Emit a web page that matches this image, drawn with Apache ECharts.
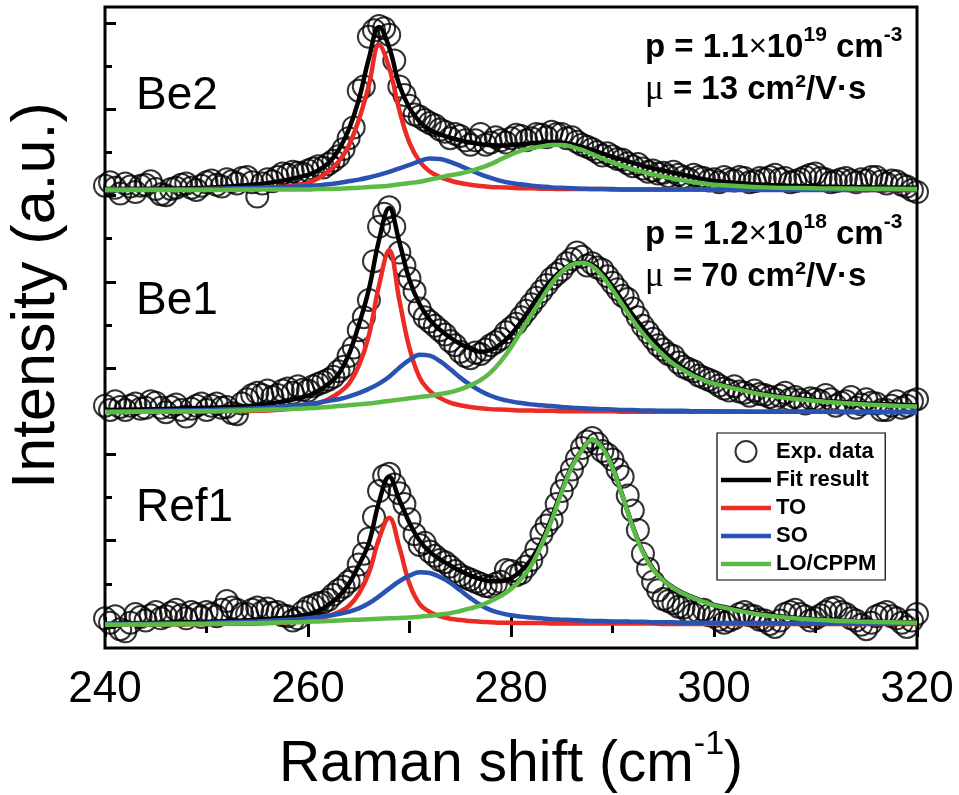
<!DOCTYPE html>
<html lang="en">
<head>
<meta charset="UTF-8">
<title>Raman spectra Be2 / Be1 / Ref1</title>
<script src="https://cdn.jsdelivr.net/npm/echarts@6/dist/echarts.min.js"></script>
<style>html,body{margin:0;padding:0;background:#fff;}</style>
</head>
<body>
<div id="chart" style="width:959px;height:795px;"></div>
<script>
// measured Raman shift (cm-1), one point every 0.5 cm-1
var expShift = [240,240.5,241,241.5,242,242.5,243,243.5,244,244.5,245,245.5,246,246.5,247,247.5,248,248.5,249,249.5,
    250,250.5,251,251.5,252,252.5,253,253.5,254,254.5,255,255.5,256,256.5,257,257.5,258,258.5,259,259.5,
    260,260.5,261,261.5,262,262.5,263,263.5,264,264.5,265,265.5,266,266.5,267,267.5,268,268.5,269,269.5,
    270,270.5,271,271.5,272,272.5,273,273.5,274,274.5,275,275.5,276,276.5,277,277.5,278,278.5,279,279.5,
    280,280.5,281,281.5,282,282.5,283,283.5,284,284.5,285,285.5,286,286.5,287,287.5,288,288.5,289,289.5,
    290,290.5,291,291.5,292,292.5,293,293.5,294,294.5,295,295.5,296,296.5,297,297.5,298,298.5,299,299.5,
    300,300.5,301,301.5,302,302.5,303,303.5,304,304.5,305,305.5,306,306.5,307,307.5,308,308.5,309,309.5,
    310,310.5,311,311.5,312,312.5,313,313.5,314,314.5,315,315.5,316,316.5,317,317.5,318,318.5,319,319.5,320];

var fitShift = [240,245,250,255,258,259,260,261,262,263,
    264,265,266,267,268,269,270,271,272,273,
    274,275,276,277,278,279,280,281,282,283,
    284,285,286,287,288,289,290,291,292,293,
    294,295,296,297,298,299,300,305,310,315,320];

// vertical offset of each spectrum (a.u.)
var offsets = {Be2: 10.13, Be1: 4.98, Ref1: 0.05};

// ---- Be2 ----
var be2Exp = [0.10,0.18,0.05,-0.08,0.15,0.08,-0.05,0.10,0.12,0.20,0.02,-0.10,-0.12,0.02,0.05,0.12,0.15,0.05,0.00,0.10,
    0.18,0.22,0.12,0.08,0.25,0.20,0.15,0.28,0.30,0.18,-0.15,0.15,0.25,0.20,0.30,0.38,0.35,0.42,0.40,0.38,
    0.45,0.50,0.55,0.52,0.60,0.68,0.78,0.95,1.20,1.45,2.30,2.40,3.55,3.70,3.80,3.75,3.60,3.00,2.40,2.20,
    1.95,1.75,1.70,1.62,1.55,1.50,1.40,1.35,1.20,1.30,1.25,1.15,1.05,1.15,1.30,1.05,1.10,1.22,1.15,1.10,
    1.20,1.28,1.25,1.15,1.20,1.30,1.28,1.22,1.35,1.30,1.30,1.20,1.22,1.12,1.05,1.00,0.95,0.88,0.80,0.85,
    0.78,0.72,0.70,0.62,0.55,0.60,0.50,0.42,0.45,0.38,0.40,0.32,0.42,0.35,0.30,0.25,0.35,0.30,0.28,0.22,
    0.25,0.18,0.30,0.25,0.22,0.30,0.28,0.18,0.20,0.28,0.25,0.30,0.35,0.25,0.28,0.18,0.20,0.25,0.30,0.35,
    0.38,0.28,0.25,0.18,0.20,0.25,0.28,0.22,0.18,0.25,0.22,0.30,0.30,0.20,0.15,0.22,0.20,0.12,0.08,0.00,-0.05];
var be2Fit = [0.02,0.03,0.05,0.13,0.24,0.29,0.35,0.45,0.62,0.92,
    1.39,2.09,3.05,3.78,3.30,2.43,1.90,1.58,1.39,1.29,
    1.21,1.15,1.10,1.06,1.04,1.03,1.04,1.06,1.08,1.10,
    1.11,1.10,1.06,1.00,0.93,0.85,0.77,0.70,0.63,0.56,
    0.50,0.45,0.40,0.35,0.30,0.25,0.21,0.12,0.08,0.06,0.05];
var be2TO = [0.01,0.01,0.02,0.04,0.08,0.11,0.16,0.27,0.43,0.65,
    1.02,1.62,2.43,3.36,2.83,1.85,1.09,0.66,0.43,0.30,
    0.22,0.16,0.12,0.09,0.07,0.06,0.05,0.04,0.04,0.03,
    0.03,0.02,0.02,0.02,0.02,0.02,0.01,0.01,0.01,0.01,
    0.01,0.01,0.01,0.01,0.01,0.01,0.01,0.01,0.01,0.00,0.00];
var be2SO = [0.00,0.01,0.02,0.05,0.07,0.08,0.09,0.11,0.13,0.16,
    0.20,0.24,0.29,0.35,0.42,0.50,0.58,0.67,0.73,0.72,
    0.65,0.56,0.46,0.36,0.28,0.21,0.16,0.13,0.10,0.08,
    0.06,0.05,0.04,0.03,0.02,0.02,0.02,0.01,0.01,0.01,
    0.01,0.01,0.01,0.01,0.01,0.01,0.00,0.00,0.00,0.00,0.00];
var be2LO = [0.00,0.00,0.00,0.01,0.01,0.01,0.01,0.02,0.02,0.03,
    0.04,0.05,0.07,0.08,0.10,0.13,0.16,0.19,0.24,0.29,
    0.34,0.38,0.44,0.51,0.60,0.71,0.82,0.91,0.97,1.01,
    1.04,1.04,1.00,0.93,0.83,0.73,0.64,0.56,0.48,0.42,
    0.36,0.31,0.26,0.22,0.18,0.15,0.12,0.06,0.04,0.03,0.02];

// ---- Be1 ----
var be1Exp = [0.15,0.05,0.25,0.12,0.05,0.15,0.20,0.08,0.10,0.25,0.22,0.10,0.00,0.12,0.18,0.05,-0.10,0.08,0.15,0.20,
    0.05,0.15,0.20,0.10,0.12,-0.02,-0.05,0.20,0.30,0.40,0.45,0.40,0.50,0.35,0.40,0.50,0.55,0.45,0.60,0.52,
    0.50,0.60,0.65,0.70,0.75,0.82,0.95,1.05,1.30,1.50,1.90,2.20,2.60,3.50,4.30,4.60,4.75,4.30,3.70,3.40,
    3.10,2.80,2.40,2.20,2.10,2.00,1.90,1.80,1.65,1.55,1.40,1.30,1.25,1.38,1.35,1.45,1.55,1.62,1.70,1.85,
    1.95,2.05,2.20,2.35,2.50,2.65,2.80,2.95,3.10,3.20,3.30,3.45,3.55,3.70,3.60,3.40,3.45,3.35,3.30,3.15,
    3.00,2.85,2.70,2.62,2.40,2.20,2.00,1.85,1.70,1.55,1.45,1.35,1.30,1.15,1.05,1.00,0.95,0.85,0.80,0.75,
    0.70,0.62,0.55,0.50,0.60,0.48,0.45,0.38,0.50,0.42,0.40,0.35,0.30,0.38,0.45,0.30,0.35,0.28,0.20,0.32,
    0.30,0.25,0.40,0.30,0.15,0.22,0.25,0.35,0.10,0.18,0.30,0.22,0.20,0.05,0.05,0.15,0.25,0.10,0.15,0.25,0.30];
var be1Fit = [0.05,0.07,0.10,0.16,0.27,0.32,0.38,0.49,0.65,0.88,
    1.32,2.02,2.85,3.99,4.73,3.94,3.06,2.50,2.14,1.91,
    1.73,1.58,1.47,1.40,1.44,1.58,1.80,2.10,2.44,2.78,
    3.07,3.28,3.43,3.48,3.42,3.22,2.92,2.58,2.25,1.95,
    1.67,1.42,1.21,1.02,0.88,0.76,0.67,0.42,0.28,0.20,0.16];
var be1TO = [0.01,0.01,0.02,0.03,0.07,0.10,0.14,0.20,0.30,0.44,
    0.65,1.07,1.78,2.94,3.75,2.60,1.48,0.80,0.49,0.33,
    0.22,0.16,0.12,0.09,0.07,0.06,0.05,0.04,0.04,0.03,
    0.03,0.02,0.02,0.02,0.02,0.02,0.02,0.01,0.01,0.01,
    0.01,0.01,0.01,0.01,0.01,0.01,0.01,0.01,0.01,0.01,0.01];
var be1SO = [0.01,0.03,0.05,0.09,0.14,0.16,0.19,0.22,0.26,0.30,
    0.36,0.44,0.54,0.66,0.82,1.03,1.21,1.33,1.31,1.18,
    1.00,0.80,0.63,0.49,0.38,0.30,0.25,0.21,0.18,0.16,
    0.14,0.12,0.10,0.09,0.08,0.07,0.06,0.05,0.05,0.04,
    0.04,0.03,0.03,0.03,0.02,0.02,0.02,0.01,0.01,0.00,0.00];
var be1LO = [0.00,0.01,0.02,0.05,0.07,0.08,0.09,0.10,0.12,0.14,
    0.16,0.18,0.20,0.23,0.26,0.29,0.32,0.35,0.38,0.42,
    0.46,0.53,0.62,0.74,0.92,1.18,1.50,1.88,2.25,2.62,
    2.98,3.25,3.42,3.46,3.38,3.15,2.83,2.48,2.13,1.82,
    1.55,1.32,1.12,0.97,0.84,0.74,0.66,0.40,0.26,0.18,0.13];

// ---- Ref1 ----
var ref1Exp = [0.15,0.05,0.20,-0.10,-0.15,0.05,0.25,0.18,0.10,0.22,0.30,0.15,0.20,0.28,0.35,0.22,0.15,0.30,0.25,0.18,
    0.30,0.25,0.20,0.35,0.55,0.40,0.35,0.25,0.25,0.35,0.40,0.30,0.38,0.28,0.30,0.22,0.20,0.10,0.15,0.30,
    0.40,0.45,0.50,0.52,0.58,0.70,0.80,0.88,1.00,1.10,1.40,1.65,2.00,2.50,3.10,3.45,3.50,3.25,3.05,2.80,
    2.45,2.10,1.85,1.90,1.70,1.60,1.50,1.45,1.35,1.25,1.15,1.10,1.05,1.00,0.95,0.90,0.88,0.95,1.00,1.27,
    1.25,1.15,1.20,1.35,1.50,1.75,2.10,2.30,2.45,2.80,3.10,3.35,3.60,3.85,4.10,4.25,4.33,4.20,4.03,3.95,
    3.83,3.60,3.43,3.00,2.65,2.20,1.65,1.30,1.00,0.80,0.60,0.55,0.50,0.42,0.40,0.30,0.25,0.30,0.35,0.22,
    0.20,0.12,0.05,0.10,0.15,0.25,0.30,0.22,0.20,0.12,0.10,0.02,-0.05,0.10,0.25,0.30,0.35,0.25,0.20,0.10,
    0.15,0.22,0.30,0.38,0.40,0.30,0.25,0.15,0.10,0.00,-0.10,0.05,0.20,0.25,0.30,0.20,0.15,0.05,-0.05,0.10,0.25];
var ref1Fit = [0.02,0.05,0.07,0.12,0.17,0.20,0.24,0.32,0.46,0.65,
    0.94,1.38,1.90,2.85,3.43,2.90,2.36,1.95,1.69,1.52,
    1.38,1.25,1.14,1.06,1.01,1.01,1.08,1.25,1.52,1.92,
    2.48,3.12,3.68,4.06,4.29,4.12,3.66,2.98,2.28,1.70,
    1.30,1.04,0.86,0.73,0.63,0.54,0.46,0.24,0.13,0.08,0.06];
var ref1TO = [0.01,0.01,0.02,0.03,0.06,0.07,0.09,0.14,0.20,0.29,
    0.43,0.72,1.20,2.00,2.48,1.80,0.95,0.48,0.30,0.20,
    0.14,0.11,0.09,0.07,0.06,0.05,0.05,0.04,0.04,0.04,
    0.03,0.03,0.03,0.03,0.03,0.03,0.03,0.03,0.03,0.03,
    0.03,0.02,0.02,0.02,0.02,0.02,0.02,0.02,0.02,0.02,0.02];
var ref1SO = [0.02,0.03,0.05,0.08,0.12,0.13,0.15,0.18,0.21,0.25,
    0.30,0.38,0.50,0.66,0.84,1.01,1.14,1.22,1.20,1.11,
    0.98,0.80,0.62,0.46,0.34,0.27,0.22,0.19,0.17,0.15,
    0.13,0.12,0.11,0.10,0.09,0.09,0.08,0.08,0.07,0.07,
    0.06,0.06,0.06,0.05,0.05,0.05,0.05,0.04,0.03,0.03,0.03];
var ref1LO = [0.00,0.01,0.02,0.04,0.06,0.06,0.07,0.08,0.09,0.10,
    0.11,0.12,0.13,0.14,0.15,0.16,0.17,0.19,0.21,0.24,
    0.27,0.32,0.38,0.45,0.55,0.67,0.83,1.06,1.38,1.85,
    2.42,3.08,3.66,4.05,4.29,4.10,3.64,2.97,2.26,1.68,
    1.28,1.03,0.85,0.72,0.62,0.53,0.45,0.22,0.12,0.07,0.05];

var seriesNames = ['Exp. data', 'Fit result', 'TO', 'SO', 'LO/CPPM'];
var lineColors = ['#000000', '#ec2b24', '#2a52b3', '#5cbb46'];

var spectra = [
    {off: offsets.Be2, exp: be2Exp, curves: [be2Fit, be2TO, be2SO, be2LO]},
    {off: offsets.Be1, exp: be1Exp, curves: [be1Fit, be1TO, be1SO, be1LO]},
    {off: offsets.Ref1, exp: ref1Exp, curves: [ref1Fit, ref1TO, ref1SO, ref1LO]}
];

var FONT = '"Liberation Sans", Arial, sans-serif';

function toPairs(xs, ys, off) {
    return xs.map(function (x, i) { return [x, +(ys[i] + off).toFixed(3)]; });
}

var series = [];
spectra.forEach(function (s) {
    series.push({
        name: seriesNames[0],
        type: 'scatter',
        symbol: 'circle',
        symbolSize: 22,
        itemStyle: {color: 'rgba(0,0,0,0)', borderColor: '#000', borderWidth: 2},
        data: toPairs(expShift, s.exp, s.off),
        z: 2
    });
});
for (var k = 0; k < 4; k++) {
    spectra.forEach(function (s) {
        series.push({
            name: seriesNames[k + 1],
            type: 'line',
            symbol: 'none',
            smooth: 0.4,
            lineStyle: {color: lineColors[k], width: 4.5},
            itemStyle: {color: lineColors[k]},
            data: toPairs(fitShift, s.curves[k], s.off),
            z: 3 + k
        });
    });
}

// legend: open circle for the data, plain bars for the curves
var lineIcon = 'path://M0,0H50V4.5H0Z';
var legendData = seriesNames.map(function (n, i) {
    return i === 0 ? {name: n} : {name: n, icon: lineIcon};
});

var tickStyle = {color: '#000', width: 3};
var annRich = {
    b: {fontFamily: FONT, fontWeight: 'bold', fontSize: 33, color: '#000'},
    x: {fontFamily: FONT, fontWeight: 'normal', fontSize: 31, color: '#000'},
    mu: {fontFamily: '"Liberation Serif", serif', fontWeight: 'normal', fontSize: 35, color: '#000'},
    sup: {fontFamily: FONT, fontWeight: 'bold', fontSize: 21, color: '#000', padding: [0, 0, 24, 0]}
};

function annText(x, y, str) {
    return {type: 'text', left: x, top: y, style: {text: str, rich: annRich}, z: 20};
}
function labelText(x, y, str) {
    return {type: 'text', left: x, top: y,
        style: {text: str, fontFamily: FONT, fontSize: 46, fill: '#000'}, z: 20};
}

var chart = echarts.init(document.getElementById('chart'));
chart.setOption({
    animation: false,
    backgroundColor: '#fff',
    grid: {left: 105, right: 42, top: 7, bottom: 147, outerBoundsMode: 'none',
        show: true, borderColor: '#000', borderWidth: 3},
    xAxis: [{
        type: 'value', min: 240, max: 320, interval: 20, position: 'bottom',
        axisLine: {show: false},
        axisTick: {inside: true, length: 10, lineStyle: tickStyle},
        minorTick: {show: true, splitNumber: 2, length: 6, lineStyle: tickStyle},
        splitLine: {show: false},
        axisLabel: {fontFamily: FONT, fontSize: 44, color: '#000', margin: 20},
        name: 'Raman shift (cm{sup|-1})',
        nameLocation: 'middle',
        nameGap: 80,
        nameTextStyle: {fontFamily: FONT, fontSize: 57, color: '#000',
            rich: {sup: {fontFamily: FONT, fontSize: 34, color: '#000', padding: [0, 0, 40, 0]}}}
    }, {
        type: 'value', min: 240, max: 320, interval: 20, position: 'top',
        axisLine: {show: false},
        axisTick: {inside: true, length: 10, lineStyle: tickStyle},
        minorTick: {show: true, splitNumber: 2, length: 6, lineStyle: tickStyle},
        splitLine: {show: false},
        axisLabel: {show: false}
    }],
    yAxis: [{
        type: 'value', min: -0.487, max: 14.371, position: 'left',
        axisLine: {show: false},
        axisTick: {inside: true, length: 11, lineStyle: tickStyle, customValues: [0, 2, 4, 6, 8, 10, 12, 14]},
        splitLine: {show: false},
        axisLabel: {show: false},
        name: 'Intensity (a.u.)',
        nameLocation: 'middle',
        nameRotate: 90,
        nameGap: 37,
        nameTextStyle: {fontFamily: FONT, fontSize: 61, color: '#000', padding: [0, 0, 0, 64]}
    }, {
        type: 'value', min: -0.487, max: 14.371, position: 'left',
        axisLine: {show: false},
        axisTick: {inside: true, length: 7, lineStyle: tickStyle, customValues: [1, 3, 5, 7, 9, 11, 13]},
        splitLine: {show: false},
        axisLabel: {show: false}
    }],
    legend: {
        data: legendData,
        orient: 'vertical',
        left: 717, top: 433,
        itemWidth: 50, itemHeight: 21, itemGap: 6,
        padding: [7, 9, 5, 4],
        borderColor: '#000', borderWidth: 1.2,
        backgroundColor: '#fff',
        selectedMode: false,
        textStyle: {fontFamily: FONT, fontWeight: 'bold', fontSize: 22, color: '#000', lineHeight: 22}
    },
    graphic: [
        labelText(136, 73, 'Be2'),
        labelText(136, 278, 'Be1'),
        labelText(136, 485, 'Ref1'),
        annText(645, 25, '{b|p = 1.1}{x|\u00d7}{b|10}{sup|19}{b| cm}{sup|-3}'),
        annText(645, 72, '{mu|\u03bc}{b| = 13 cm\u00b2/V\u00b7s}'),
        annText(645, 212, '{b|p = 1.2}{x|\u00d7}{b|10}{sup|18}{b| cm}{sup|-3}'),
        annText(645, 259, '{mu|\u03bc}{b| = 70 cm\u00b2/V\u00b7s}')
    ],
    series: series
});
</script>
</body>
</html>
